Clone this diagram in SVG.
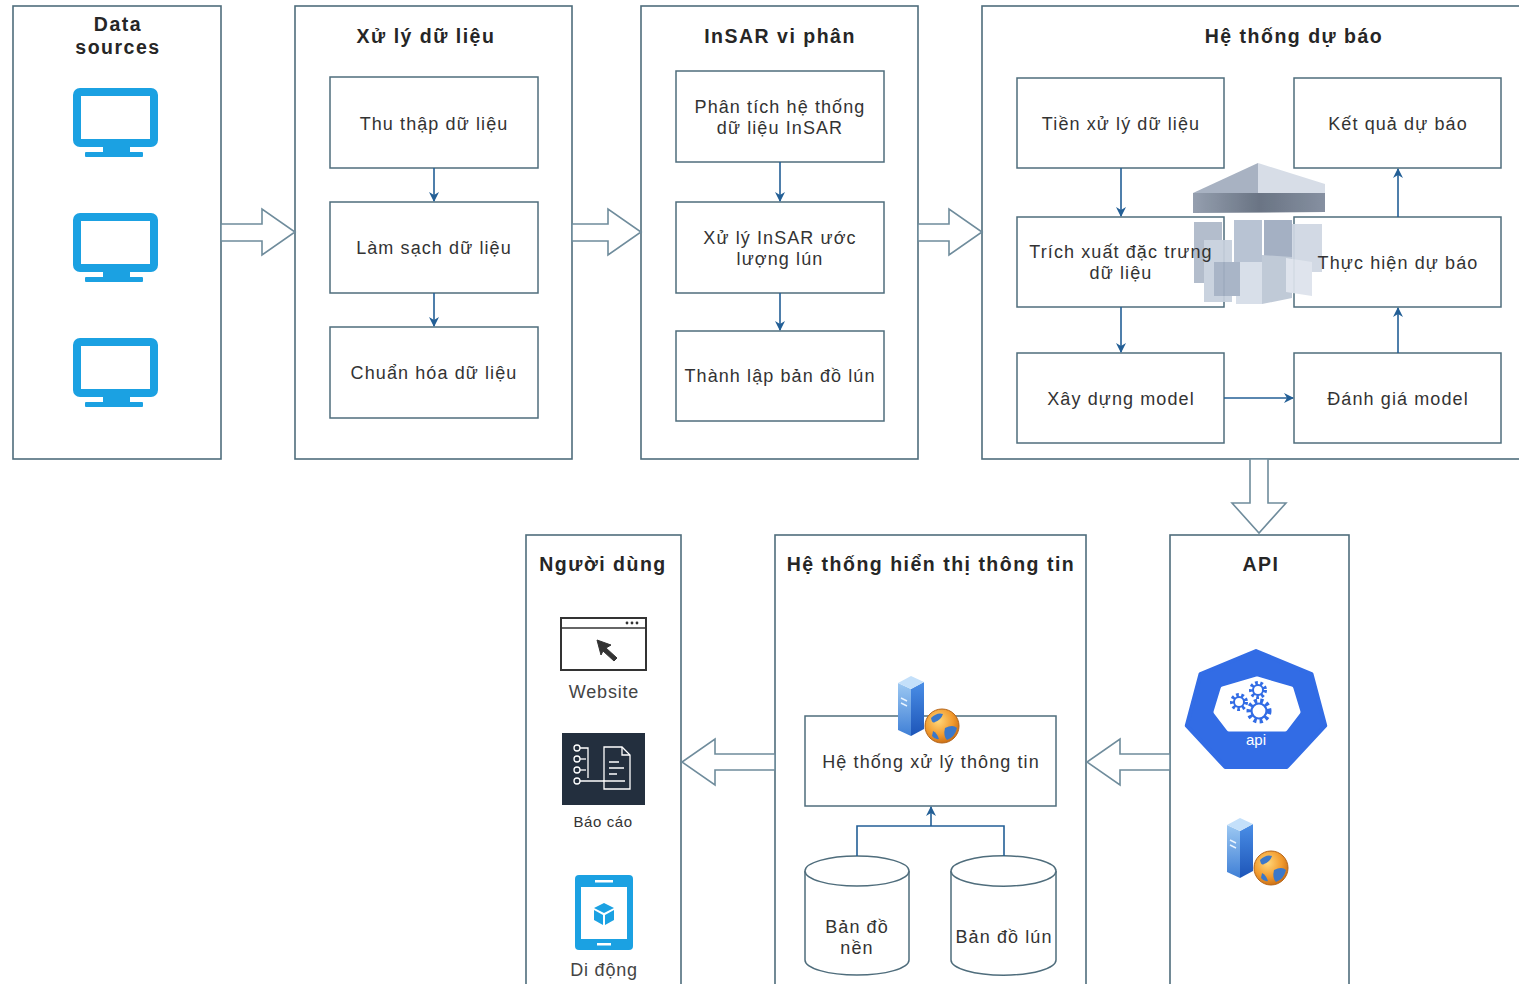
<svg xmlns="http://www.w3.org/2000/svg" xmlns:xlink="http://www.w3.org/1999/xlink" width="1519" height="984" viewBox="0 0 1519 984">
  <style>
    .frame { fill: #ffffff; stroke: #4f6d7c; stroke-width: 1.6; }
    .box { fill: #ffffff; stroke: #4f6d7c; stroke-width: 1.5; }
    .title { font-family: "Liberation Sans", Arial, sans-serif; font-size: 19.5px; font-weight: bold; fill: #262626; text-anchor: middle; letter-spacing: 1.5px; }
    .label { font-family: "Liberation Sans", Arial, sans-serif; font-size: 18px; fill: #333333; text-anchor: middle; letter-spacing: 1.1px; }
    .cap { font-family: "Liberation Sans", Arial, sans-serif; font-size: 18px; fill: #444444; text-anchor: middle; letter-spacing: 0.8px; }
    .flow { fill: none; stroke: #235f96; stroke-width: 1.6; }
    .big { fill: #ffffff; stroke: #6f8c9c; stroke-width: 1.6; }
    .mon { fill: none; stroke: #1ba1e2; stroke-width: 8; }
    .monf { fill: #1ba1e2; }
    .cyl { fill: #ffffff; stroke: #4f6d7c; stroke-width: 1.5; }
    .gear { fill: none; stroke: #326ce5; }
  </style>
  <defs>
    <marker id="tip" viewBox="0 0 10 10" refX="9" refY="5" markerWidth="10" markerHeight="10" orient="auto" markerUnits="userSpaceOnUse">
      <path d="M0,0 L10,5 L0,10 L3,5 Z" fill="#235f96"/>
    </marker>
    <linearGradient id="towerL" x1="0" y1="0" x2="0" y2="1">
      <stop offset="0" stop-color="#9cc8f2"/>
      <stop offset="1" stop-color="#3f7fd6"/>
    </linearGradient>
    <linearGradient id="towerR" x1="0" y1="0" x2="0" y2="1">
      <stop offset="0" stop-color="#4a8ee6"/>
      <stop offset="1" stop-color="#1d55b8"/>
    </linearGradient>
    <radialGradient id="globe" cx="0.4" cy="0.35" r="0.7">
      <stop offset="0" stop-color="#ffd77a"/>
      <stop offset="0.6" stop-color="#f29b2e"/>
      <stop offset="1" stop-color="#c66a12"/>
    </radialGradient>
    <linearGradient id="slabBand" x1="0" y1="0" x2="1" y2="0">
      <stop offset="0" stop-color="#8d98a9"/>
      <stop offset="0.5" stop-color="#5f6a7b"/>
      <stop offset="1" stop-color="#7d889a"/>
    </linearGradient>
    <symbol id="server" viewBox="0 0 72 80" width="72" height="80" overflow="visible">
      <polygon points="3,15 16,21 16,68 3,62" fill="url(#towerL)"/>
      <polygon points="16,21 29,14 29,61 16,68" fill="url(#towerR)"/>
      <polygon points="3,15 16,8 29,14 16,21" fill="#c4e0fa"/>
      <line x1="6" y1="30" x2="12" y2="33" stroke="#e8f3ff" stroke-width="1.5"/>
      <line x1="6" y1="35" x2="12" y2="38" stroke="#e8f3ff" stroke-width="1.5"/>
      <circle cx="47" cy="58" r="17" fill="url(#globe)" stroke="#b5651a" stroke-width="1"/>
      <path d="M36,50 q6,-6 12,-4 q-2,6 -8,8 q-3,2 -4,-4 Z" fill="#3b78c9"/>
      <path d="M50,60 q8,-4 12,0 q-2,9 -10,12 q-4,-4 -2,-12 Z" fill="#3b78c9"/>
      <path d="M38,63 q4,2 6,8 q-4,1 -7,-3 Z" fill="#3b78c9"/>
    </symbol>
  </defs>

  <rect width="1519" height="984" fill="#ffffff"/>

  <!-- Data sources -->
  <g id="data-sources">
    <rect class="frame" x="13" y="6" width="208" height="453"/>
    <text class="title" x="118" y="31">Data</text>
    <text class="title" x="118" y="54">sources</text>
    <g id="monitor-1">
      <rect class="mon" x="77" y="92" width="77" height="51" rx="3"/>
      <rect class="monf" x="103" y="146" width="27" height="7"/>
      <rect class="monf" x="85" y="152" width="58" height="5" rx="1"/>
    </g>
    <g id="monitor-2">
      <rect class="mon" x="77" y="217" width="77" height="51" rx="3"/>
      <rect class="monf" x="103" y="271" width="27" height="7"/>
      <rect class="monf" x="85" y="277" width="58" height="5" rx="1"/>
    </g>
    <g id="monitor-3">
      <rect class="mon" x="77" y="342" width="77" height="51" rx="3"/>
      <rect class="monf" x="103" y="396" width="27" height="7"/>
      <rect class="monf" x="85" y="402" width="58" height="5" rx="1"/>
    </g>
  </g>

  <!-- Data processing -->
  <g id="xu-ly-du-lieu">
    <rect class="frame" x="295" y="6" width="277" height="453"/>
    <text class="title" x="426" y="43">Xử lý dữ liệu</text>
    <g id="thu-thap">
      <rect class="box" x="330" y="77" width="208" height="91"/>
      <text class="label" x="434" y="130">Thu thập dữ liệu</text>
    </g>
    <g id="lam-sach">
      <rect class="box" x="330" y="202" width="208" height="91"/>
      <text class="label" x="434" y="254">Làm sạch dữ liệu</text>
    </g>
    <g id="chuan-hoa">
      <rect class="box" x="330" y="327" width="208" height="91"/>
      <text class="label" x="434" y="379">Chuẩn hóa dữ liệu</text>
    </g>
  </g>

  <!-- Differential InSAR -->
  <g id="insar">
    <rect class="frame" x="641" y="6" width="277" height="453"/>
    <text class="title" x="780" y="43">InSAR vi phân</text>
    <g id="phan-tich">
      <rect class="box" x="676" y="71" width="208" height="91"/>
      <text class="label" x="780" y="113">Phân tích hệ thống</text>
      <text class="label" x="780" y="134">dữ liệu InSAR</text>
    </g>
    <g id="xu-ly-insar">
      <rect class="box" x="676" y="202" width="208" height="91"/>
      <text class="label" x="780" y="244">Xử lý InSAR ước</text>
      <text class="label" x="780" y="265">lượng lún</text>
    </g>
    <g id="thanh-lap">
      <rect class="box" x="676" y="331" width="208" height="90"/>
      <text class="label" x="780" y="382">Thành lập bản đồ lún</text>
    </g>
  </g>

  <!-- Forecasting system -->
  <g id="he-thong-du-bao">
    <rect class="frame" x="982" y="6" width="545" height="453"/>
    <text class="title" x="1294" y="43">Hệ thống dự báo</text>
    <g id="tien-xu-ly">
      <rect class="box" x="1017" y="78" width="207" height="90"/>
      <text class="label" x="1121" y="130">Tiền xử lý dữ liệu</text>
    </g>
    <g id="ket-qua">
      <rect class="box" x="1294" y="78" width="207" height="90"/>
      <text class="label" x="1398" y="130">Kết quả dự báo</text>
    </g>
    <g id="trich-xuat">
      <rect class="box" x="1017" y="217" width="207" height="90"/>
    </g>
    <g id="thuc-hien">
      <rect class="box" x="1294" y="217" width="207" height="90"/>
    </g>
    <g id="xay-dung">
      <rect class="box" x="1017" y="353" width="207" height="90"/>
      <text class="label" x="1121" y="405">Xây dựng model</text>
    </g>
    <g id="danh-gia">
      <rect class="box" x="1294" y="353" width="207" height="90"/>
      <text class="label" x="1398" y="405">Đánh giá model</text>
    </g>
    <!-- stacked-cubes emblem -->
    <g id="cubes-icon" opacity="0.93">
      <polygon points="1194,222 1222,222 1222,283 1194,283" fill="#aeb9c9"/>
      <polygon points="1204,240 1232,240 1232,302 1204,302" fill="#c7d0dd"/>
      <polygon points="1234,220 1262,220 1262,268 1234,268" fill="#b3bfd0"/>
      <polygon points="1264,220 1292,220 1292,262 1264,262" fill="#9eabbf"/>
      <polygon points="1292,224 1322,224 1322,272 1292,272" fill="#cfd7e3"/>
      <polygon points="1236,262 1262,262 1262,304 1236,304" fill="#d6dde8"/>
      <polygon points="1262,255 1292,257 1292,298 1262,304" fill="#bcc6d5"/>
      <polygon points="1286,258 1312,262 1312,296 1286,292" fill="#dde3ec"/>
      <polygon points="1214,262 1240,262 1240,296 1214,296" fill="#a3b0c3"/>
      <polygon points="1193,193 1258,163 1258,193" fill="#a2adbe"/>
      <polygon points="1258,163 1325,184 1325,193 1258,193" fill="#d4dbe6"/>
      <polygon points="1193,193 1325,193 1325,212 1193,213" fill="url(#slabBand)"/>
    </g>
    <text class="label" x="1121" y="258">Trích xuất đặc trưng</text>
    <text class="label" x="1121" y="279">dữ liệu</text>
    <text class="label" x="1398" y="269">Thực hiện dự báo</text>
  </g>

  <!-- API -->
  <g id="api">
    <rect class="frame" x="1170" y="535" width="179" height="460"/>
    <text class="title" x="1261" y="571">API</text>
    <g id="api-icon">
      <polygon points="1256,651 1311.5,674 1325.2,725.6 1286.8,767 1225.2,767 1186.8,725.6 1200.5,674" fill="#326ce5" stroke="#326ce5" stroke-width="4" stroke-linejoin="round"/>
      <polygon points="1257,679 1291,689 1298,712 1285,729 1229,729 1216,712 1223,689" fill="#ffffff" stroke="#ffffff" stroke-width="5" stroke-linejoin="round"/>
      <circle class="gear" cx="1239" cy="702" r="7" stroke-width="4" stroke-dasharray="2.6 2.4"/>
      <circle class="gear" cx="1239" cy="702" r="5" stroke-width="2"/>
      <circle class="gear" cx="1258" cy="690" r="7" stroke-width="4" stroke-dasharray="2.6 2.4"/>
      <circle class="gear" cx="1258" cy="690" r="5" stroke-width="2"/>
      <circle class="gear" cx="1259" cy="711" r="10" stroke-width="5" stroke-dasharray="3 3"/>
      <circle class="gear" cx="1259" cy="711" r="7.5" stroke-width="2.2"/>
      <text x="1256" y="745" font-family="Liberation Sans, Arial, sans-serif" font-size="15" fill="#ffffff" text-anchor="middle">api</text>
    </g>
    <use href="#server" x="1224" y="810"/>
  </g>

  <!-- Information display system -->
  <g id="he-thong-hien-thi">
    <rect class="frame" x="775" y="535" width="311" height="460"/>
    <text class="title" x="931" y="571">Hệ thống hiển thị thông tin</text>
    <g id="xu-ly-thong-tin">
      <rect class="box" x="805" y="716" width="251" height="90"/>
      <text class="label" x="931" y="768">Hệ thống xử lý thông tin</text>
    </g>
    <use href="#server" x="895" y="668"/>
    <g id="ban-do-nen">
      <path class="cyl" d="M805,871 A52,15 0 0 1 909,871 L909,960 A52,15 0 0 1 805,960 Z"/>
      <path class="cyl" d="M805,871 A52,15 0 0 0 909,871"/>
      <text class="label" x="857" y="933">Bản đồ</text>
      <text class="label" x="857" y="954">nền</text>
    </g>
    <g id="ban-do-lun">
      <path class="cyl" d="M951,871 A52,15 0 0 1 1056,871 L1056,960 A52,15 0 0 1 951,960 Z"/>
      <path class="cyl" d="M951,871 A52,15 0 0 0 1056,871"/>
      <text class="label" x="1004" y="943" letter-spacing="0.6">Bản đồ lún</text>
    </g>
  </g>

  <!-- Users -->
  <g id="nguoi-dung">
    <rect class="frame" x="526" y="535" width="155" height="460"/>
    <text class="title" x="603" y="571">Người dùng</text>
    <g id="website">
      <rect x="561" y="618" width="85" height="52" fill="#ffffff" stroke="#333333" stroke-width="2"/>
      <line x1="561" y1="628" x2="646" y2="628" stroke="#333333" stroke-width="1.5"/>
      <circle cx="627" cy="623" r="1.4" fill="#333333"/>
      <circle cx="632" cy="623" r="1.4" fill="#333333"/>
      <circle cx="637" cy="623" r="1.4" fill="#333333"/>
      <path d="M597,640 L611,645 L606,648 L617,658 L614,661 L603,651 L601,655 Z" fill="#333333" stroke="#333333" stroke-width="1" stroke-linejoin="round"/>
      <text class="cap" x="604" y="698">Website</text>
    </g>
    <g id="bao-cao">
      <rect x="562" y="733" width="83" height="72" fill="#232f3e"/>
      <g fill="none" stroke="#ffffff" stroke-width="1.3">
        <circle cx="577" cy="748" r="3"/>
        <circle cx="577" cy="759" r="3"/>
        <circle cx="577" cy="770" r="3"/>
        <circle cx="577" cy="781" r="3"/>
        <path d="M580,748 H588 V778"/>
        <path d="M580,759 H586"/>
        <path d="M580,770 H586"/>
        <path d="M580,781 H625"/>
        <path d="M604,747 H622 L630,755 V789 H604 Z"/>
        <path d="M622,747 V755 H630"/>
        <path d="M609,762 H619 M609,768 H624 M609,774 H617"/>
      </g>
      <text x="603" y="827" font-family="Liberation Sans, Arial, sans-serif" font-size="15" fill="#333333" text-anchor="middle" letter-spacing="0.6">Báo cáo</text>
    </g>
    <g id="di-dong">
      <rect x="575" y="875" width="58" height="75" rx="4" fill="#1ba1e2"/>
      <rect x="581" y="887" width="46" height="52" fill="#ffffff"/>
      <rect x="595" y="880" width="18" height="2.5" fill="#ffffff"/>
      <rect x="597" y="943" width="14" height="2.5" fill="#ffffff"/>
      <polygon points="604,903 614,908 604,913 594,908" fill="#1ba1e2"/>
      <polygon points="594,910 603,915 603,925 594,920" fill="#1ba1e2"/>
      <polygon points="605,915 614,910 614,920 605,925" fill="#1ba1e2"/>
      <text class="cap" x="604" y="976">Di động</text>
    </g>
  </g>

  <!-- Connectors -->
  <g id="connectors">
    <!-- stage-to-stage hollow arrows -->
    <polygon class="big" points="221,224 262,224 262,209 295,232 262,255 262,241 221,241"/>
    <polygon class="big" points="572,224 608,224 608,209 641,232 608,255 608,241 572,241"/>
    <polygon class="big" points="918,224 949,224 949,209 982,232 949,255 949,241 918,241"/>
    <polygon class="big" points="1250,459 1268,459 1268,503 1286,503 1259,533 1232,503 1250,503"/>
    <polygon class="big" points="1170,754 1120,754 1120,739 1087,762 1120,785 1120,770 1170,770"/>
    <polygon class="big" points="775,754 715,754 715,739 682,762 715,785 715,770 775,770"/>

    <!-- data processing steps -->
    <line class="flow" x1="434" y1="168" x2="434" y2="201" marker-end="url(#tip)"/>
    <line class="flow" x1="434" y1="293" x2="434" y2="326" marker-end="url(#tip)"/>
    <!-- InSAR steps -->
    <line class="flow" x1="780" y1="162" x2="780" y2="201" marker-end="url(#tip)"/>
    <line class="flow" x1="780" y1="293" x2="780" y2="330" marker-end="url(#tip)"/>
    <!-- forecasting steps -->
    <line class="flow" x1="1121" y1="168" x2="1121" y2="216" marker-end="url(#tip)"/>
    <line class="flow" x1="1121" y1="307" x2="1121" y2="352" marker-end="url(#tip)"/>
    <line class="flow" x1="1224" y1="398" x2="1293" y2="398" marker-end="url(#tip)"/>
    <line class="flow" x1="1398" y1="353" x2="1398" y2="308" marker-end="url(#tip)"/>
    <line class="flow" x1="1398" y1="217" x2="1398" y2="169" marker-end="url(#tip)"/>
    <!-- map stores feeding the information system -->
    <path class="flow" d="M857,856 V826 H1004 V856"/>
    <line class="flow" x1="931" y1="826" x2="931" y2="807" marker-end="url(#tip)"/>
  </g>
</svg>
